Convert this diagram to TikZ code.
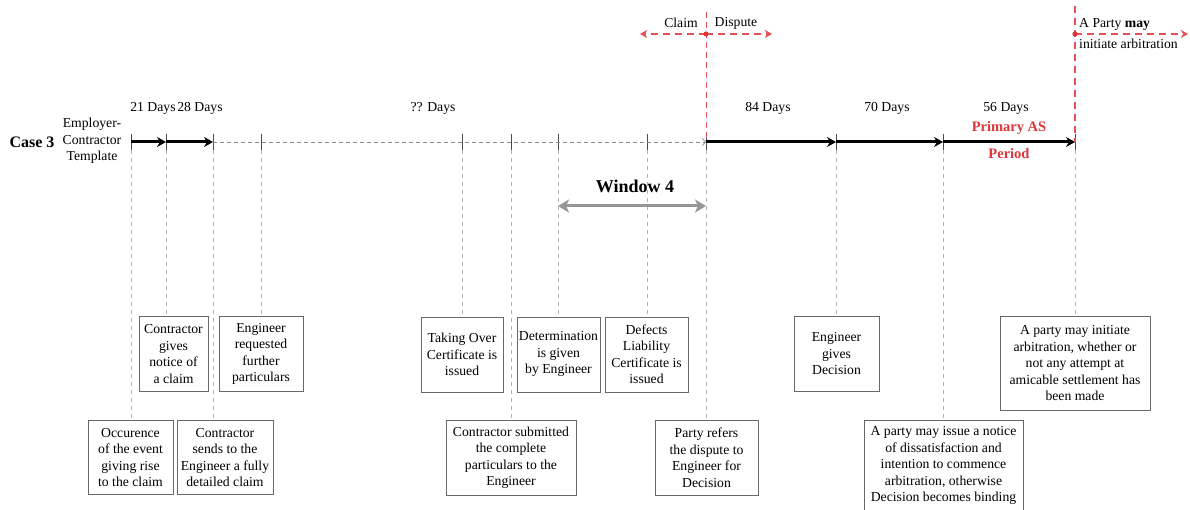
\documentclass[tikz,border=0pt]{standalone}
\usepackage{fontspec}
\setmainfont{Liberation Serif}
\usetikzlibrary{arrows.meta}
\definecolor{accent}{RGB}{222,52,56}
\definecolor{boxline}{RGB}{105,105,105}
\definecolor{guide}{RGB}{180,180,180}
\definecolor{timegray}{RGB}{140,140,140}
\definecolor{winarrow}{RGB}{150,150,150}
\begin{document}
\begin{tikzpicture}[x=1pt,y=-1pt,
  txt/.style={font=\fontsize{13.7}{16.5}\selectfont, inner sep=0pt},
  event/.style={txt, draw=boxline, line width=0.8pt, align=center,
    inner xsep=1pt, inner ysep=6pt, anchor=north},
  upper/.style={event, minimum height=75pt},
  daylabel/.style={txt},
  tickmark/.style={draw=black!70, line width=0.8pt},
  bigarrow/.style={line width=3pt, -{Stealth[length=9pt,width=10pt,inset=3pt]}},
  pending/.style={draw=timegray, line width=0.8pt, dash pattern=on 4pt off 3pt,
    -{Straight Barb[length=3pt,width=7pt,line width=0.8pt]}},
  connector/.style={draw=guide, line width=0.7pt, dash pattern=on 4pt off 4pt},
  phase/.style={draw=accent!85, line width=1.2pt, dash pattern=on 7pt off 5pt},
  phasetip/.style={-{Stealth[length=7pt,width=8pt,inset=2pt]}},
  red/.style={font=\fontsize{14.5}{17}\selectfont\bfseries, text=accent, inner sep=0pt}
]
\path[use as bounding box, clip] (0,0) rectangle (1190,510);

% timeline points
\coordinate (t0) at (131,142);
\coordinate (t1) at (166,142);
\coordinate (t2) at (213,142);
\coordinate (t3) at (261,142);
\coordinate (t4) at (462,142);
\coordinate (t5) at (511,142);
\coordinate (t6) at (558,142);
\coordinate (t7) at (647,142);
\coordinate (t8) at (706,142);
\coordinate (t9) at (836,142);
\coordinate (t10) at (943,142);
\coordinate (t11) at (1075,142);

% row headers
\node[font=\fontsize{16}{18}\selectfont\bfseries, inner sep=0pt] (case) at (32,142) {Case 3};
\node[txt, align=center] (tmpl) at (92,141) {Employer-\\Contractor\\Template};

% event boxes, upper row
\node[upper, minimum width=69pt] (notice) at (173.5,316) {Contractor\\gives\\notice of\\a claim};
\node[upper, minimum width=84pt] (requested) at (261,316) {Engineer\\requested\\further\\particulars};
\node[upper, minimum width=82pt] (takeover) at (462,316.5) {Taking Over\\Certificate is\\issued};
\node[upper, minimum width=83pt] (determ) at (558.5,316.5) {Determination\\is given\\by Engineer};
\node[upper, minimum width=83pt] (defects) at (646.5,316.5) {Defects\\Liability\\Certificate is\\issued};
\node[upper, minimum width=85pt] (decision) at (836.5,316) {Engineer\\gives\\Decision};
\node[event, minimum width=150pt, minimum height=94pt] (initiate) at (1075,316) {A party may initiate\\arbitration, whether or\\not any attempt at\\amicable settlement has\\been made};

% event boxes, lower row
\node[upper, minimum width=85pt, minimum height=74pt] (occur) at (130.5,420) {Occurence\\of the event\\giving rise\\to the claim};
\node[upper, minimum width=96pt, minimum height=74pt] (sends) at (225,420) {Contractor\\sends to the\\Engineer a fully\\detailed claim};
\node[upper, minimum width=130pt] (submitted) at (511,420) {Contractor submitted\\the complete\\particulars to the\\Engineer};
\node[upper, minimum width=103pt] (refers) at (706.5,420) {Party refers\\the dispute to\\Engineer for\\Decision};
\node[event, minimum width=159pt, inner ysep=6.5pt] (issue) at (943.5,420) {A party may issue a notice\\of dissatisfaction and\\intention to commence\\arbitration, otherwise\\Decision becomes binding};

% guides from the timeline down to the boxes
\draw[connector] (t0) -- (t0 |- occur.north);
\draw[connector] (t1) -- (t1 |- notice.north);
\draw[connector] (t2) -- (t2 |- sends.north);
\draw[connector] (t3) -- (t3 |- requested.north);
\draw[connector] (t4) -- (t4 |- takeover.north);
\draw[connector] (t5) -- (t5 |- submitted.north);
\draw[connector] (t6) -- (t6 |- determ.north);
\draw[connector] (t7) -- (t7 |- defects.north);
\draw[connector] (t8) -- (t8 |- refers.north);
\draw[connector] (t9) -- (t9 |- decision.north);
\draw[connector] (t10) -- (t10 |- issue.north);
\draw[connector] (t11) -- (t11 |- initiate.north);

% tick marks
\foreach \t in {t0,t1,t2,t3,t4,t5,t6,t7,t8,t9,t10,t11}
  \draw[tickmark] ([yshift=8pt]\t) -- ([yshift=-8pt]\t);

% timeline segments
\draw[bigarrow] (t0) -- (t1);
\draw[bigarrow] (t1) -- (t2);
\draw[pending] (t2) -- (t8);
\draw[bigarrow] (t8) -- (t9);
\draw[bigarrow] (t9) -- (t10);
\draw[bigarrow] (t10) -- (t11);

% durations
\node[daylabel] (d21) at (153,108) {21 Days};
\node[daylabel] (d28) at (200,108) {28 Days};
\node[daylabel] (dqq) at (433,108) {?? Days};
\node[daylabel] (d84) at (768,108) {84 Days};
\node[daylabel] (d70) at (887,108) {70 Days};
\node[daylabel] (d56) at (1006,108) {56 Days};
\node[red] (primary) at (1009,128) {Primary AS};
\node[red] (period) at (1009,154) {Period};

% window 4
\node[font=\fontsize{18}{20}\selectfont\bfseries, inner sep=0pt] (win) at (635,186) {Window 4};
\coordinate (w1) at (558,206);
\coordinate (w2) at (706,206);
\draw[draw=winarrow, line width=3pt, {Stealth[length=11pt,width=13pt,inset=3pt]}-{Stealth[length=11pt,width=13pt,inset=3pt]}] (w1) -- (w2);

% claim / dispute boundary
\coordinate (cdtop) at (706,12);
\coordinate (cd) at (706,34);
\coordinate (cdleft) at (640,34);
\coordinate (cdright) at (772,34);
\draw[phase, line width=0.9pt, dash pattern=on 6pt off 4pt] (cdtop) -- (t8);
\draw[phase, phasetip] (cd) -- (cdleft);
\draw[phase, phasetip] (cd) -- (cdright);
\fill[accent] (cd) circle (2.6pt);
\node[txt] (claim) at (681,23) {Claim};
\node[txt] (dispute) at (736,23) {Dispute};

% arbitration boundary
\coordinate (arbtop) at (1075,6);
\coordinate (arb) at (1075,34);
\coordinate (arbright) at (1188,34);
\draw[phase] (arbtop) -- (t11);
\draw[phase, phasetip] (arb) -- (arbright);
\fill[accent] (arb) circle (2.6pt);
\node[txt, anchor=west] (maytxt) at (1079,24) {A Party \textbf{may}};
\node[txt, anchor=west] (arbtxt) at (1079,44) {initiate arbitration};
\end{tikzpicture}
\end{document}
